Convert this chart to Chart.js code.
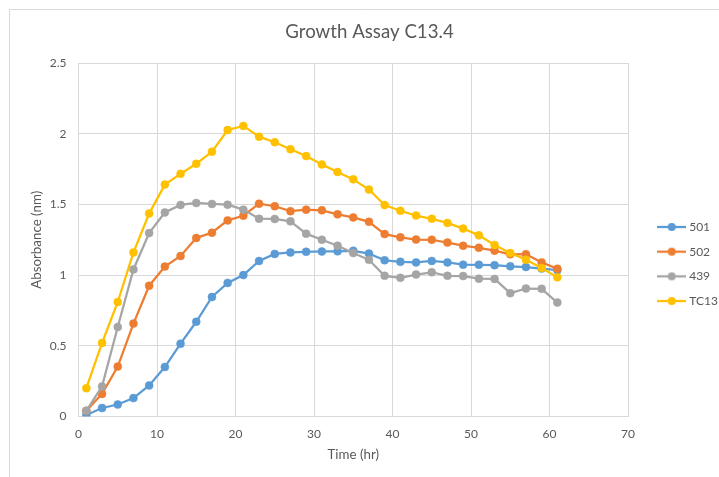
<!DOCTYPE html>
<html>
<head>
<meta charset="utf-8">
<title>Growth Assay C13.4</title>
<script src="https://cdn.jsdelivr.net/npm/chart.js@4.4.0/dist/chart.umd.min.js"></script>
<style>
  html, body { margin: 0; padding: 0; background: #fff; overflow: hidden; }
  #wrap { width: 719px; height: 477px; }
</style>
</head>
<body>
<div id="wrap"><canvas id="growthChart" width="719" height="477"></canvas></div>
<script>
// sampling times (hr)
const timeHours = [1, 3, 5, 7, 9, 11, 13, 15, 17, 19, 21, 23, 25, 27, 29, 31,
                   33, 35, 37, 39, 41, 43, 45, 47, 49, 51, 53, 55, 57, 59, 61];

// absorbance readings per strain
const series501 = [0.01, 0.06, 0.085, 0.13, 0.22, 0.35, 0.515, 0.67, 0.845, 0.945, 1.0,
                   1.1, 1.15, 1.16, 1.165, 1.167, 1.168, 1.172, 1.152, 1.105, 1.094,
                   1.09, 1.1, 1.09, 1.074, 1.073, 1.07, 1.062, 1.057, 1.046, 1.035];
const series502 = [0.04, 0.16, 0.353, 0.657, 0.925, 1.06, 1.135, 1.262, 1.3, 1.387, 1.42,
                   1.505, 1.487, 1.452, 1.463, 1.458, 1.43, 1.408, 1.377, 1.29, 1.267,
                   1.251, 1.25, 1.23, 1.208, 1.193, 1.173, 1.147, 1.148, 1.09, 1.045];
const series439 = [0.04, 0.213, 0.633, 1.04, 1.297, 1.443, 1.496, 1.51, 1.503, 1.498, 1.463,
                   1.399, 1.397, 1.38, 1.293, 1.25, 1.208, 1.156, 1.108, 0.995, 0.981,
                   1.004, 1.02, 0.995, 0.993, 0.975, 0.973, 0.872, 0.905, 0.903, 0.806];
const seriesTC13 = [0.2, 0.52, 0.81, 1.16, 1.435, 1.64, 1.716, 1.787, 1.873, 2.026, 2.055,
                    1.979, 1.94, 1.89, 1.842, 1.783, 1.729, 1.677, 1.605, 1.495, 1.455,
                    1.421, 1.398, 1.369, 1.329, 1.281, 1.213, 1.156, 1.109, 1.05, 0.984];

const seriesNames = ['501', '502', '439', 'TC13'];
const seriesColors = ['#5B9BD5', '#ED7D31', '#A5A5A5', '#FFC000'];

const xTicks = [0, 10, 20, 30, 40, 50, 60, 70];
const yTicks = [0, 0.5, 1, 1.5, 2, 2.5];

const inkGrey = '#595959';
const gridGrey = '#d9d9d9';
const fontFamily = 'Lato, Carlito, Calibri, sans-serif';

document.addEventListener('DOMContentLoaded', () => {
    initializeChart();
});

/**
 * Small line-with-dot swatch used as the legend marker.
 */
function legendMarker(color) {
    const c = document.createElement('canvas');
    c.width = 29;
    c.height = 10;
    const g = c.getContext('2d');
    g.strokeStyle = color;
    g.lineWidth = 2.25;
    g.beginPath();
    g.moveTo(0, 5);
    g.lineTo(29, 5);
    g.stroke();
    g.fillStyle = color;
    g.beginPath();
    g.arc(14.5, 5, 4, 0, Math.PI * 2);
    g.fill();
    return c;
}

// white background plus the outer chart frame (top and left edges)
const chartFrame = {
    id: 'chartFrame',
    beforeDraw(chart) {
        const { ctx, width, height } = chart;
        ctx.save();
        ctx.fillStyle = '#fff';
        ctx.fillRect(0, 0, width, height);
        ctx.strokeStyle = gridGrey;
        ctx.lineWidth = 1;
        ctx.beginPath();
        ctx.moveTo(9.5, height);
        ctx.lineTo(9.5, 9.5);
        ctx.lineTo(width, 9.5);
        ctx.stroke();
        ctx.restore();
    }
};

// fixed legend column width, then nudge the legend into place
const legendPlacement = {
    id: 'legendPlacement',
    afterInit(chart) {
        const legend = chart.legend;
        const fit = legend.fit.bind(legend);
        legend.fit = function () {
            fit();
            this.width = 91;
        };
    },
    afterLayout(chart) {
        const legend = chart.legend;
        legend.left += 19.5;
        legend.right += 19.5;
        legend.top += 25.5;
        legend.bottom += 25.5;
    }
};

function initializeChart() {
    const ctx = document.getElementById('growthChart').getContext('2d');
    const seriesValues = [series501, series502, series439, seriesTC13];

    const datasets = seriesValues.map((values, i) => ({
        label: seriesNames[i],
        data: values.map((v, k) => ({ x: timeHours[k], y: v })),
        borderColor: seriesColors[i],
        backgroundColor: seriesColors[i],
        pointBackgroundColor: seriesColors[i],
        pointBorderColor: seriesColors[i],
        borderWidth: 2.25,
        pointRadius: 4,
        pointBorderWidth: 0.5,
        tension: 0,
        order: seriesValues.length - i // later series sit on top
    }));

    new Chart(ctx, {
        type: 'line',
        data: { datasets },
        plugins: [chartFrame, legendPlacement],
        options: {
            responsive: false,
            animation: false,
            devicePixelRatio: 1,
            layout: { padding: { left: 20, right: 0, top: 0, bottom: 0 } },
            plugins: {
                title: {
                    display: true,
                    text: 'Growth Assay C13.4',
                    color: inkGrey,
                    font: { family: fontFamily, size: 18.67, weight: 'normal' },
                    padding: { top: 21, bottom: 19.6 }
                },
                legend: {
                    position: 'right',
                    labels: {
                        usePointStyle: true,
                        pointStyleWidth: 23,
                        boxHeight: 12,
                        padding: 12.7,
                        color: inkGrey,
                        font: { family: fontFamily, size: 12 },
                        generateLabels: chart => chart.data.datasets.map((ds, i) => ({
                            text: ds.label,
                            pointStyle: legendMarker(ds.borderColor),
                            fillStyle: ds.borderColor,
                            strokeStyle: ds.borderColor,
                            lineWidth: 0,
                            fontColor: inkGrey,
                            hidden: false,
                            datasetIndex: i
                        }))
                    }
                },
                tooltip: { enabled: false }
            },
            scales: {
                x: {
                    type: 'linear',
                    min: 0,
                    max: 70,
                    afterBuildTicks: scale => {
                        scale.ticks = xTicks.map(value => ({ value }));
                    },
                    afterFit: scale => { scale.height = 60.5; },
                    grid: { color: gridGrey, drawTicks: false },
                    border: { color: gridGrey },
                    ticks: {
                        padding: 10,
                        color: inkGrey,
                        font: { family: fontFamily, size: 12 },
                        callback: value => String(value)
                    },
                    title: {
                        display: true,
                        text: 'Time (hr)',
                        color: inkGrey,
                        font: { family: fontFamily, size: 13.33 },
                        padding: { top: 0, bottom: 14 }
                    }
                },
                y: {
                    min: 0,
                    max: 2.5,
                    afterBuildTicks: scale => {
                        scale.ticks = yTicks.map(value => ({ value }));
                    },
                    afterFit: scale => { scale.width = 58.5; },
                    grid: { color: gridGrey, drawTicks: false },
                    border: { color: gridGrey },
                    ticks: {
                        padding: 12,
                        color: inkGrey,
                        font: { family: fontFamily, size: 12 },
                        callback: value => String(value)
                    },
                    title: {
                        display: true,
                        text: 'Absorbance (nm)',
                        color: inkGrey,
                        font: { family: fontFamily, size: 13.33 },
                        padding: { top: 9, bottom: 0 }
                    }
                }
            }
        }
    });
}
</script>
</body>
</html>
